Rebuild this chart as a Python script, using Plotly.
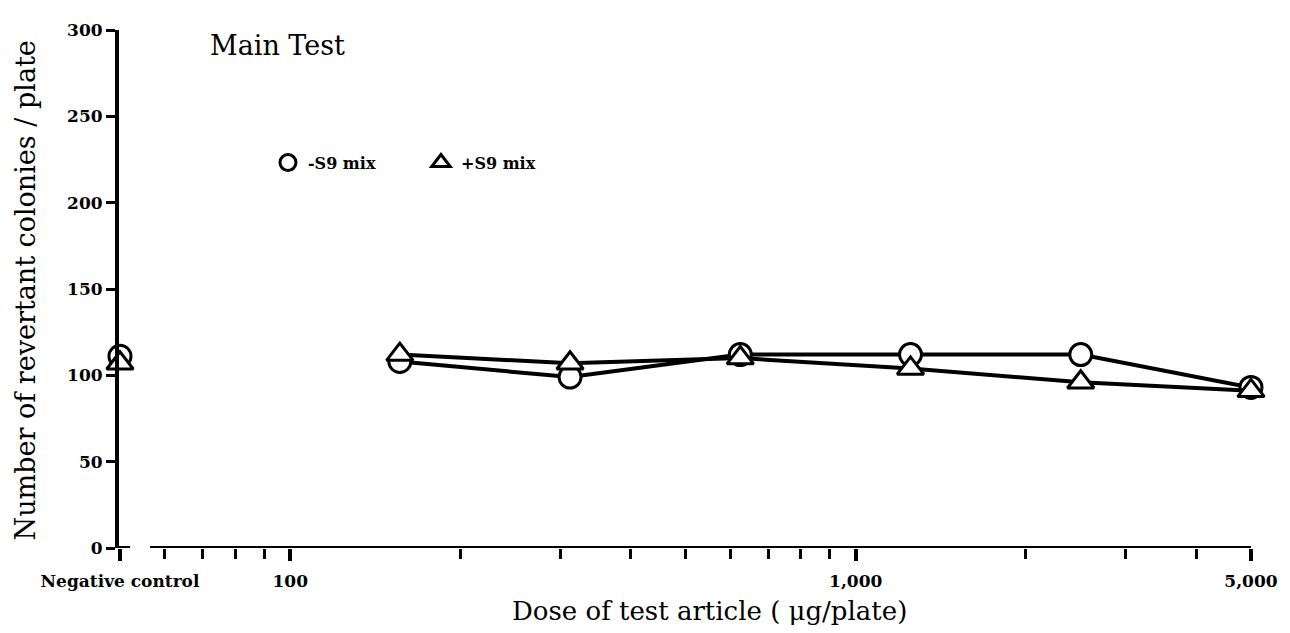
import math
import plotly.graph_objects as go

# ---- data ----
doses = [156.25, 312.5, 625, 1250, 2500, 5000]
neg_control_dose = [50]
minus_s9 = [108, 99, 112, 112, 112, 93]
plus_s9 = [112, 107, 110, 104, 96, 91]
minus_s9_nc = [111]
plus_s9_nc = [107]

x_tickvals = [50, 100, 1000, 5000]
x_ticktext = ["Negative control", "100", "1,000", "5,000"]
x_minor = [60, 70, 80, 90, 200, 300, 400, 500, 600, 700, 800, 900, 2000, 3000, 4000]
y_tickvals = [0, 50, 100, 150, 200, 250, 300]

FONT = "DejaVu Serif"
BLACK = "black"

circle = dict(symbol="circle", size=22, color="white", line=dict(color=BLACK, width=3))
tri = dict(symbol="triangle-up", size=23, color="white", line=dict(color=BLACK, width=3))

fig = go.Figure()
fig.add_trace(go.Scatter(x=neg_control_dose, y=minus_s9_nc, mode="markers", marker=circle,
                         showlegend=False, cliponaxis=False))
fig.add_trace(go.Scatter(x=doses, y=minus_s9, mode="lines+markers", marker=circle,
                         line=dict(color=BLACK, width=4), showlegend=False, cliponaxis=False))
fig.add_trace(go.Scatter(x=neg_control_dose, y=plus_s9_nc, mode="markers", marker=tri,
                         showlegend=False, cliponaxis=False))
fig.add_trace(go.Scatter(x=doses, y=plus_s9, mode="lines+markers", marker=tri,
                         line=dict(color=BLACK, width=4), showlegend=False, cliponaxis=False))
# legend entries (markers only)
fig.add_trace(go.Scatter(x=[None], y=[None], mode="markers", marker=circle, name="-S9 mix"))
fig.add_trace(go.Scatter(x=[None], y=[None], mode="markers", marker=tri, name="+S9 mix"))

# broken x axis line (short stub for negative control, then the log axis)
fig.add_shape(type="line", xref="x", yref="y", x0=49.8, x1=52.1, y0=0, y1=0,
              line=dict(color=BLACK, width=4))
fig.add_shape(type="line", xref="x", yref="y", x0=56.5, x1=5000, y0=0, y1=0,
              line=dict(color=BLACK, width=4))

fig.update_layout(
    width=1282, height=625,
    margin=dict(l=111, r=35, t=16, b=85),
    paper_bgcolor="white", plot_bgcolor="white",
    font=dict(family=FONT, color=BLACK),
    legend=dict(orientation="h", x=0.1316, xanchor="left", y=0.744, yanchor="middle",
                font=dict(family=FONT, size=16, weight="bold"),
                bgcolor="rgba(0,0,0,0)", entrywidth=108, entrywidthmode="pixels"),
    xaxis=dict(type="log", range=[math.log10(49.8), math.log10(5000.5)],
               showline=False, showgrid=False, zeroline=False,
               tickmode="array", tickvals=x_tickvals, ticktext=x_ticktext,
               ticks="outside", ticklen=12, tickwidth=4, tickcolor=BLACK,
               ticklabelstandoff=6,
               tickfont=dict(family=FONT, size=17, weight="bold"),
               minor=dict(tickvals=x_minor, ticks="outside", ticklen=10, tickwidth=3,
                          tickcolor=BLACK, showgrid=False)),
    yaxis=dict(range=[0, 300], showline=True, linewidth=4, linecolor=BLACK,
               showgrid=False, zeroline=False,
               tickmode="array", tickvals=y_tickvals,
               ticks="outside", ticklen=9, tickwidth=3, tickcolor=BLACK,
               tickfont=dict(family=FONT, size=17, weight="bold")),
)

fig.add_annotation(text="Main Test", xref="paper", yref="paper", x=0.0783, y=0.9695,
                   xanchor="left", yanchor="middle", showarrow=False,
                   font=dict(family=FONT, size=27))
fig.add_annotation(text="Number of revertant colonies / plate", xref="paper", yref="paper",
                   x=-0.0827, xanchor="center", y=0.498, yanchor="middle", textangle=-90,
                   showarrow=False, font=dict(family=FONT, size=27))
fig.add_annotation(text="Dose of test article ( \u03bcg/plate)", xref="paper", yref="paper",
                   x=0.522, xanchor="center", y=-0.122, yanchor="middle",
                   showarrow=False, font=dict(family=FONT, size=26))

fig.write_html("out.html")
